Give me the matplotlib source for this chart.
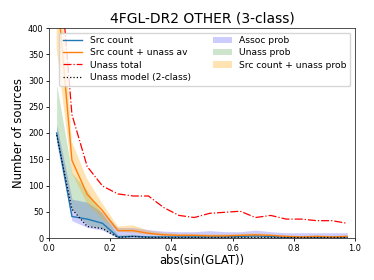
import matplotlib
matplotlib.use("Agg")
import matplotlib.pyplot as plt

# bin centres in abs(sin(GLAT))
glat_bins = [0.025, 0.075, 0.125, 0.175, 0.225, 0.275, 0.325, 0.375, 0.425, 0.475,
             0.525, 0.575, 0.625, 0.675, 0.725, 0.775, 0.825, 0.875, 0.925, 0.975]

src_count = [200, 41, 36, 28, 2, 3, 2, 2, 2, 2, 2, 2, 3, 4, 3, 1, 1, 1, 1, 1]
src_unass_av = [480, 148, 83, 52, 14, 14, 9, 6, 5, 5, 4, 4, 5, 6, 5, 3, 2, 3, 2, 3]
unass_total = [590, 235, 136, 99, 84, 80, 80, 58, 43, 39, 47, 49, 51, 39, 43, 36, 36, 33, 33, 28]
unass_model = [196, 55, 22, 18, 1, 3, 1, 1, 1, 1, 1, 1, 1, 1, 1, 1, 1, 1, 1, 1]

assoc_lo = [180, 33, 20, 15, 0, 0, 0, 0, 0, 0, 0, 0, 0, 0, 0, 0, 0, 0, 0, 0]
assoc_hi = [216, 74, 68, 49, 20, 20, 16, 13, 12, 12, 14, 12, 12, 15, 12, 10, 10, 10, 10, 10]
unass_lo = [190, 55, 25, 18, 1, 3, 1, 1, 1, 1, 1, 1, 1, 1, 1, 1, 1, 1, 1, 1]
unass_hi = [292, 124, 90, 45, 6, 7, 4, 3, 3, 3, 3, 3, 3, 4, 3, 2, 2, 2, 2, 2]
srcu_lo = [360, 124, 65, 36, 12, 10, 6, 4, 3, 3, 3, 3, 3, 3, 2, 1, 1, 1, 1, 1]
srcu_hi = [600, 183, 112, 65, 22, 24, 14, 10, 8, 8, 7, 7, 8, 9, 7, 5, 4, 5, 4, 5]

fig = plt.figure(figsize=(3.74, 2.80), dpi=100)
ax = fig.add_axes([0.131, 0.15, 0.818, 0.75])

ax.plot(glat_bins, src_count, color="tab:blue", lw=1.0, label="Src count")
ax.plot(glat_bins, src_unass_av, color="tab:orange", lw=1.0, label="Src count + unass av")
ax.plot(glat_bins, unass_total, "r-.", lw=0.9, label="Unass total")
ax.plot(glat_bins, unass_model, "k:", lw=0.9, label="Unass model (2-class)")

ax.fill_between(glat_bins, assoc_lo, assoc_hi, color="blue", alpha=0.2, lw=0, label="Assoc prob")
ax.fill_between(glat_bins, unass_lo, unass_hi, color="green", alpha=0.2, lw=0, label="Unass prob")
ax.fill_between(glat_bins, srcu_lo, srcu_hi, color="orange", alpha=0.3, lw=0,
                label="Src count + unass prob")

ax.set_xlim(0, 1)
ax.set_ylim(0, 400)
ax.tick_params(labelsize=5.9, length=2.5, width=0.6, pad=1.5)
for s in ax.spines.values():
    s.set_linewidth(0.6)
    s.set_color("#333333")

ax.set_xlabel("abs(sin(GLAT))", fontsize=8.4, labelpad=1)
ax.set_ylabel("Number of sources", fontsize=8.4, labelpad=2)
ax.set_title("4FGL-DR2 OTHER (3-class)", fontsize=10, pad=4)

ax.legend(loc="upper right", ncol=2, fontsize=6.6, handlelength=2.1,
          borderpad=0.4, labelspacing=0.35, columnspacing=2.4)

fig.savefig("out.png", dpi=100)
